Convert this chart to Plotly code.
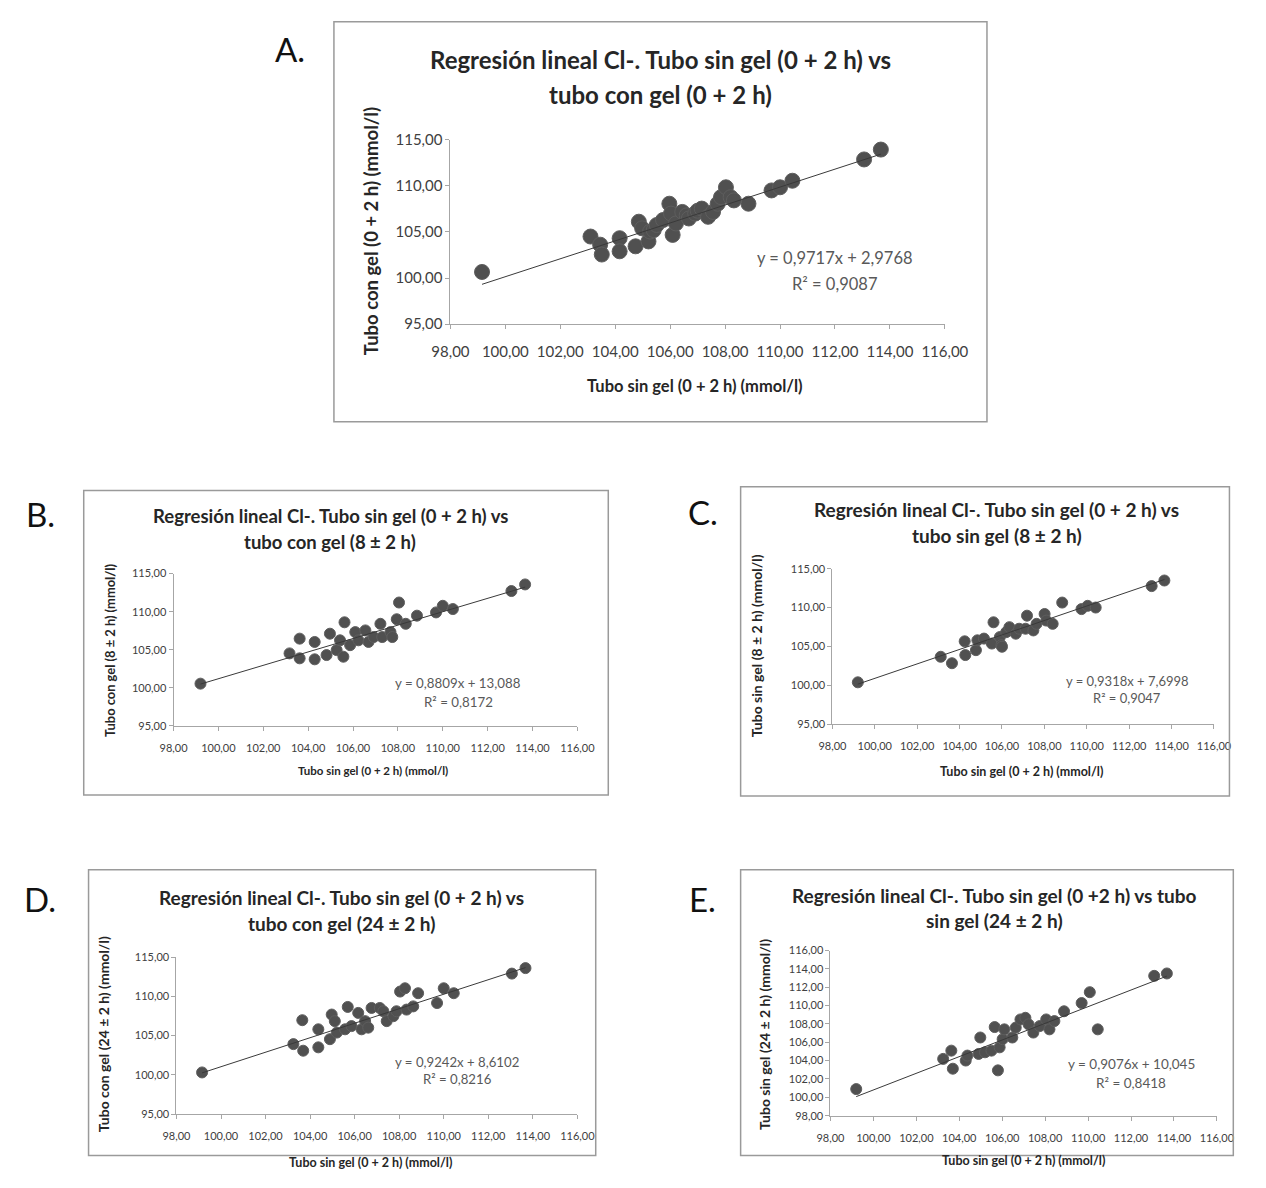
import plotly.graph_objects as go

W, H = 1266, 1188
def px(x): return x / W
def py(y): return 1 - y / H

# ---------------- data ----------------
a_x = [99.15, 103.10, 103.45, 103.51, 104.16, 104.16, 104.74, 104.86, 104.98, 105.21, 105.27, 105.40, 105.51,
       105.74, 105.97, 106.03, 106.09, 106.21, 106.44, 106.60, 106.68, 106.91, 107.00, 107.15, 107.38, 107.56,
       107.73, 107.85, 108.03, 108.20, 108.32, 108.85, 109.69, 110.00, 110.45, 113.06, 113.67]
a_y = [100.66, 104.50, 103.62, 102.55, 104.32, 102.90, 103.44, 106.11, 105.39, 103.97, 105.04, 105.20, 105.75,
       106.29, 108.06, 106.99, 104.68, 105.92, 107.17, 106.80, 106.46, 106.99, 107.30, 107.53, 106.64, 107.17,
       108.06, 108.77, 109.84, 108.77, 108.42, 108.06, 109.50, 109.84, 110.55, 112.86, 113.93]
a_fit = (0.9717, 2.9768)

b_x = [99.20, 103.17, 103.62, 103.62, 104.29, 104.29, 104.82, 104.97, 105.27, 105.42, 105.57, 105.62, 105.87,
       106.10, 106.24, 106.55, 106.69, 106.92, 107.22, 107.30, 107.67, 107.75, 108.05, 107.95, 108.35, 108.85,
       109.70, 110.00, 110.45, 113.06, 113.67]
b_y = [100.53, 104.51, 103.86, 106.45, 106.01, 103.73, 104.29, 107.10, 104.94, 106.23, 104.07, 108.60, 105.59,
       107.31, 106.23, 107.53, 106.01, 106.66, 108.40, 106.66, 107.31, 106.66, 111.20, 109.00, 108.40, 109.47,
       109.90, 110.77, 110.34, 112.71, 113.58]
b_fit = (0.8809, 13.088)

c_x = [99.20, 103.11, 103.64, 104.24, 104.27, 104.77, 104.84, 105.15, 105.52, 105.60, 105.90, 105.97, 106.00,
       106.20, 106.35, 106.65, 106.81, 107.18, 107.11, 107.48, 107.63, 108.01, 108.09, 108.39, 108.84, 109.75,
       110.04, 110.42, 113.06, 113.66]
c_y = [100.37, 103.66, 102.83, 105.65, 103.88, 104.51, 105.78, 106.00, 105.36, 108.10, 106.20, 105.15, 104.95,
       106.83, 107.47, 106.63, 107.27, 108.95, 107.27, 107.05, 107.90, 109.17, 108.32, 107.90, 110.64, 109.80,
       110.22, 110.00, 112.76, 113.48]
c_fit = (0.9318, 7.6998)

d_x = [99.15, 103.25, 103.69, 103.65, 104.37, 104.37, 104.89, 104.97, 105.11, 105.20, 105.57, 105.69, 105.86,
       106.16, 106.31, 106.47, 106.61, 106.76, 107.13, 107.29, 107.44, 107.74, 107.88, 108.04, 108.26, 108.33,
       108.63, 108.85, 109.70, 110.00, 110.45, 113.06, 113.67]
d_y = [100.30, 103.91, 103.07, 106.96, 105.80, 103.50, 104.54, 107.68, 106.84, 105.38, 105.80, 108.65, 106.21,
       107.89, 105.80, 106.84, 106.01, 108.52, 108.52, 108.10, 106.84, 107.47, 108.10, 110.61, 111.03, 108.31,
       108.72, 110.40, 109.15, 111.03, 110.40, 112.90, 113.60]
d_fit = (0.9242, 8.6102)

e_x = [99.20, 103.25, 103.63, 103.70, 104.30, 104.38, 104.98, 104.90, 105.20, 105.50, 105.80, 105.65, 105.88,
       106.02, 106.10, 106.47, 106.63, 106.85, 107.08, 107.23, 107.45, 107.75, 108.05, 108.20, 108.43, 108.88,
       109.70, 110.08, 110.45, 113.08, 113.67]
e_y = [100.90, 104.19, 105.09, 103.12, 104.01, 104.55, 106.52, 104.73, 104.91, 105.09, 102.94, 107.66, 105.45,
       106.34, 107.41, 106.52, 107.60, 108.49, 108.67, 107.95, 107.06, 107.77, 108.49, 107.41, 108.31, 109.38,
       110.28, 111.46, 107.41, 113.24, 113.50]
e_fit = (0.9076, 10.045)

x_ticks = [98, 100, 102, 104, 106, 108, 110, 112, 114, 116]
y_ticks_5 = [95, 100, 105, 110, 115]
y_ticks_e = [98, 100, 102, 104, 106, 108, 110, 112, 114, 116]

panels = [
    dict(key="A", x=a_x, y=a_y, fit=a_fit, yr=[95, 115], yt=y_ticks_5,
         eq="y = 0,9717x + 2,9768", r2="R² = 0,9087",
         t1="Regresión lineal Cl-. Tubo sin gel (0 + 2 h) vs", t2="tubo con gel (0 + 2 h)",
         xt="Tubo sin gel (0 + 2 h) (mmol/l)", yt_txt="Tubo con gel (0 + 2 h) (mmol/l)"),
    dict(key="B", x=b_x, y=b_y, fit=b_fit, yr=[95, 115], yt=y_ticks_5,
         eq="y = 0,8809x + 13,088", r2="R² = 0,8172",
         t1="Regresión lineal Cl-. Tubo sin gel (0 + 2 h) vs", t2="tubo con gel (8 ± 2 h)",
         xt="Tubo sin gel (0 + 2 h) (mmol/l)", yt_txt="Tubo con gel (8 ± 2 h) (mmol/l)"),
    dict(key="C", x=c_x, y=c_y, fit=c_fit, yr=[95, 115], yt=y_ticks_5,
         eq="y = 0,9318x + 7,6998", r2="R² = 0,9047",
         t1="Regresión lineal Cl-. Tubo sin gel (0 + 2 h) vs", t2="tubo sin gel (8 ± 2 h)",
         xt="Tubo sin gel (0 + 2 h) (mmol/l)", yt_txt="Tubo sin gel (8 ± 2 h) (mmol/l)"),
    dict(key="D", x=d_x, y=d_y, fit=d_fit, yr=[95, 115], yt=y_ticks_5,
         eq="y = 0,9242x + 8,6102", r2="R² = 0,8216",
         t1="Regresión lineal Cl-. Tubo sin gel (0 + 2 h) vs", t2="tubo con gel (24 ± 2 h)",
         xt="Tubo sin gel (0 + 2 h) (mmol/l)", yt_txt="Tubo con gel (24 ± 2 h) (mmol/l)"),
    dict(key="E", x=e_x, y=e_y, fit=e_fit, yr=[98, 116], yt=y_ticks_e,
         eq="y = 0,9076x + 10,045", r2="R² = 0,8418",
         t1="Regresión lineal Cl-. Tubo sin gel (0 +2 h) vs tubo", t2="sin gel (24 ± 2 h)",
         xt="Tubo sin gel (0 + 2 h) (mmol/l)", yt_txt="Tubo sin gel (24 ± 2 h) (mmol/l)"),
]

# ---------------- layout geometry (pixels) ----------------
geo = {
    "A": dict(box=(326, 12, 1002, 418), plot=(446.6, 131.7, 958.4, 319.0), big=True,
              title=(664, 50, 86), tfs=24, xt=(700, 382), yt=(364, 225), atf=16.5,
              eqxy=(112.0, 102.2, 99.4), efs=16.5, lab=(281, 40), tick=15, ms=15),
    "B": dict(box=(67, 488, 610, 797), plot=(160, 572.3, 578, 726.7), big=False,
              title=(322, 514, 540), tfs=18.5, xt=(366, 772), yt=(94, 650), atf=11.5,
              eqxy=(110.7, 100.6, 98.1), efs=13.3, lab=(22, 512), tick=11, ms=11),
    "C": dict(box=(747, 484, 1253, 798), plot=(842, 567.3, 1237, 725.0), big=False,
              title=(1012, 507, 534), tfs=19, xt=(1038, 773), yt=(763, 646), atf=12.5,
              eqxy=(111.9, 100.5, 98.3), efs=13, lab=(708, 510), tick=11, ms=11),
    "D": dict(box=(72, 873, 597, 1163), plot=(163, 961.7, 578, 1121.0), big=False,
              title=(334, 901, 928), tfs=19, xt=(364, 1170), yt=(87, 1040), atf=12.5,
              eqxy=(110.6, 101.6, 99.4), efs=13.2, lab=(22, 903), tick=11, ms=11),
    "E": dict(box=(747, 873, 1257, 1163), plot=(840, 955.0, 1240, 1122.7), big=False,
              title=(1010, 899, 925), tfs=19, xt=(1040, 1168), yt=(771, 1040), atf=12.5,
              eqxy=(112.0, 103.6, 101.6), efs=13.5, lab=(708, 903), tick=11, ms=11),
}

FONT = "Lato"
fig = go.Figure()
annotations = []
shapes = []
layout = dict(
    width=W, height=H, margin=dict(l=0, r=0, t=0, b=0, pad=0),
    paper_bgcolor="white", plot_bgcolor="white", showlegend=False,
    separators=",.", font=dict(family=FONT, color="#404040"),
)

for i, p in enumerate(panels):
    g = geo[p["key"]]
    n = "" if i == 0 else str(i + 1)
    xa, ya = "x" + n, "y" + n
    big = g["big"]
    fig.add_trace(go.Scatter(x=p["x"], y=p["y"], mode="markers", xaxis=xa, yaxis=ya,
                             marker=dict(size=g["ms"], color="#505050",
                                         line=dict(width=1, color="#5e5e5e"))))
    slope, inter = p["fit"]
    lx = [min(p["x"]), max(p["x"])]
    ly = [slope * v + inter for v in lx]
    fig.add_trace(go.Scatter(x=lx, y=ly, mode="lines", xaxis=xa, yaxis=ya,
                             line=dict(color="#3a3a3a", width=1)))

    x0, y0, x1, y1 = g["plot"]
    axcommon = dict(showgrid=False, zeroline=False, showline=True, linecolor="#a6a6a6", linewidth=1,
                    ticks="outside", ticklen=4, tickcolor="#a6a6a6", tickformat=".2f",
                    tickfont=dict(family=FONT, size=g["tick"], color="#404040"))
    layout["xaxis" + n] = dict(domain=[px(x0), px(x1)], anchor=ya, range=[98, 116],
                               tickvals=x_ticks, ticklabelstandoff=(10 if big else 8), **axcommon)
    layout["yaxis" + n] = dict(domain=[py(y1), py(y0)], anchor=xa, range=p["yr"],
                               tickvals=p["yt"], **axcommon)

    # chart border
    bx0, by0, bx1, by1 = g["box"]
    shapes.append(dict(type="rect", xref="paper", yref="paper", x0=px(bx0), x1=px(bx1),
                       y0=py(by1), y1=py(by0), line=dict(color="#9a9a9a", width=1.5)))

    # titles
    tx, ty1, ty2 = g["title"]
    for txt, yy in ((p["t1"], ty1), (p["t2"], ty2)):
        annotations.append(dict(text="<b>" + txt + "</b>", x=px(tx), y=py(yy), xref="paper", yref="paper",
                                showarrow=False, xanchor="center", yanchor="middle",
                                font=dict(family=FONT, size=g["tfs"], color="#262626")))
    # axis titles
    annotations.append(dict(text="<b>" + p["xt"] + "</b>", x=px(g["xt"][0]), y=py(g["xt"][1]),
                            xref="paper", yref="paper", showarrow=False, xanchor="center", yanchor="middle",
                            font=dict(family=FONT, size=g["atf"], color="#262626")))
    annotations.append(dict(text="<b>" + p["yt_txt"] + "</b>", x=px(g["yt"][0]), y=py(g["yt"][1]),
                            xref="paper", yref="paper", showarrow=False, xanchor="center", yanchor="middle",
                            textangle=-90, font=dict(family=FONT, size=round(g["atf"] * 1.12, 1),
                                                     color="#262626")))
    # equation
    ex, ey, ry = g["eqxy"]
    annotations.append(dict(text=p["eq"], x=ex, y=ey, xref=xa, yref=ya, showarrow=False,
                            xanchor="center", yanchor="middle",
                            font=dict(family=FONT, size=g["efs"], color="#595959")))
    annotations.append(dict(text=p["r2"], x=ex, y=ry, xref=xa, yref=ya, showarrow=False,
                            xanchor="center", yanchor="middle",
                            font=dict(family=FONT, size=g["efs"], color="#595959")))
    # panel letter
    annotations.append(dict(text=p["key"] + ".", x=px(g["lab"][0]), y=py(g["lab"][1]), xref="paper", yref="paper",
                            showarrow=False, xanchor="center", yanchor="middle",
                            font=dict(family=FONT, size=33, color="#111111")))

layout["annotations"] = annotations
layout["shapes"] = shapes
fig.update_layout(**layout)
fig.write_html("out.html")
